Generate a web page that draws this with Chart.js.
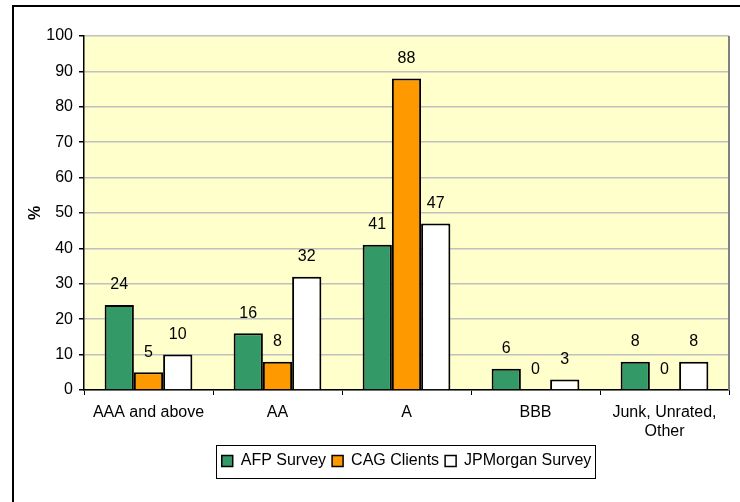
<!DOCTYPE html>
<html>
<head>
<meta charset="utf-8">
<script src="https://cdn.jsdelivr.net/npm/chart.js@4/dist/chart.umd.min.js"></script>
<style>
  html, body { margin: 0; padding: 0; background: #fff; }
  #wrap { width: 740px; height: 502px; }
</style>
</head>
<body>
<div id="wrap"><canvas id="myChart" width="740" height="502"></canvas></div>
<script>
var categories = ["AAA and above", "AA", "A", "BBB", ["Junk, Unrated,", "Other"]];
var afpSurvey = [24, 16, 41, 6, 8];
var cagClients = [5, 8, 88, 0, 0];
var jpmSurvey = [10, 32, 47, 3, 8];
var seriesNames = ["AFP Survey", "CAG Clients", "JPMorgan Survey"];
var colorArr = ["#339966", "#FF9900", "#FFFFFF"];

Chart.defaults.font.family = "'Liberation Sans', Arial, sans-serif";
Chart.defaults.font.size = 16;
Chart.defaults.color = "#000";

// frame, plot background and right border
var backdrop = {
  id: 'backdrop',
  beforeDraw: function(chart) {
    var c = chart.ctx, a = chart.chartArea;
    c.save();
    c.fillStyle = '#fff';
    c.fillRect(0, 0, chart.width, chart.height);
    c.strokeStyle = '#000';
    c.lineWidth = 2;
    c.beginPath();
    c.moveTo(13, chart.height);
    c.lineTo(13, 6);
    c.lineTo(chart.width, 6);
    c.stroke();
    c.fillStyle = '#FFFFCC';
    c.fillRect(a.left, a.top, a.right - a.left, a.bottom - a.top);
    c.restore();
  },
  afterDraw: function(chart) {
    var c = chart.ctx, a = chart.chartArea;
    c.save();
    c.strokeStyle = '#808080';
    c.lineWidth = 2;
    c.beginPath();
    c.moveTo(a.right, a.top);
    c.lineTo(a.right, a.bottom);
    c.stroke();
    // box round the legend
    var boxes = chart.legend.legendHitBoxes;
    if (boxes && boxes.length) {
      var l = boxes[0].left - 6;
      var last = boxes[boxes.length - 1];
      var r = last.left + last.width + 3;
      var mid = boxes[0].top + boxes[0].height / 2;
      c.strokeStyle = '#000';
      c.lineWidth = 1;
      c.strokeRect(Math.round(l) + 0.5, Math.round(mid - 16.5) + 0.5, Math.round(r - l), 33);
    }
    c.restore();
  }
};

var valueLabels = {
  id: 'valueLabels',
  afterDatasetsDraw: function(chart) {
    var c = chart.ctx;
    c.save();
    c.fillStyle = '#000';
    c.font = "16px 'Liberation Sans', Arial, sans-serif";
    c.textAlign = 'center';
    c.textBaseline = 'middle';
    chart.data.datasets.forEach(function(ds, i) {
      chart.getDatasetMeta(i).data.forEach(function(bar, j) {
        c.fillText(ds.data[j], bar.x, bar.y - 20);
      });
    });
    c.restore();
  }
};

var ctx = document.getElementById('myChart');

var data = {
  labels: categories,
  datasets: [
    { label: seriesNames[0], data: afpSurvey, backgroundColor: colorArr[0] },
    { label: seriesNames[1], data: cagClients, backgroundColor: colorArr[1] },
    { label: seriesNames[2], data: jpmSurvey, backgroundColor: colorArr[2] }
  ]
};
data.datasets.forEach(function(ds) {
  ds.borderColor = '#000';
  ds.borderWidth = 2;
  ds.barPercentage = 1.0;
  ds.categoryPercentage = 0.68;
});

var options = {
  responsive: false,
  animation: false,
  layout: { padding: { left: 20, right: 11, top: 36, bottom: 23 } },
  plugins: {
    legend: {
      position: 'bottom',
      fullSize: false,
      labels: {
        boxWidth: 11,
        boxHeight: 11,
        padding: 6,
        color: '#000',
        font: { size: 16 },
        generateLabels: function(chart) {
          return chart.data.datasets.map(function(ds, i) {
            return {
              text: ds.label,
              fillStyle: ds.backgroundColor,
              strokeStyle: '#000',
              lineWidth: 1.5,
              datasetIndex: i
            };
          });
        }
      }
    },
    tooltip: { enabled: false }
  },
  scales: {
    x: {
      grid: { display: true, drawOnChartArea: false, tickLength: 5, tickColor: '#000', offset: true },
      border: { color: '#000', width: 1.5 },
      ticks: { color: '#000', padding: 8, maxRotation: 0, autoSkip: false, font: { size: 16 } },
      afterFit: function(scale) { scale.height = 57; }
    },
    y: {
      min: 0,
      max: 100,
      ticks: { stepSize: 10, color: '#000', padding: 6, font: { size: 16 } },
      grid: { color: '#C0C0C0', lineWidth: 1.5, tickLength: 5, tickColor: '#000' },
      border: { color: '#000', width: 1.5 },
      title: { display: true, text: '%', color: '#000', padding: { top: 6, bottom: 0 }, font: { size: 16, weight: 'bold' } },
      afterFit: function(scale) { scale.width = 64; }
    }
  }
};

var myBarChart = new Chart(ctx, {
  type: 'bar',
  data: data,
  options: options,
  plugins: [backdrop, valueLabels]
});
</script>
</body>
</html>
